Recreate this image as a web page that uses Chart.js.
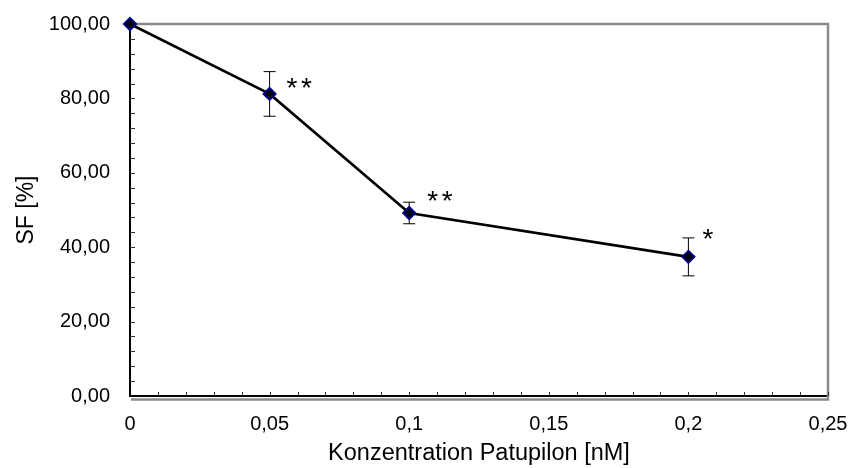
<!DOCTYPE html>
<html><head><meta charset="utf-8">
<script src="https://cdn.jsdelivr.net/npm/chart.js@4/dist/chart.umd.min.js"></script>
<style>html,body{margin:0;padding:0;background:#fff}#wrap{width:851px;height:468px;position:relative}</style>
</head><body><div id="wrap"><canvas id="c"></canvas></div>
<script>
const concentrations = [0, 0.05, 0.1, 0.2];
const sfValues = [100, 81.2, 49.2, 37.4];
const sfErrors = [0, 6.0, 2.9, 5.1];
const significance = ["", "**", "**", "*"];
const xTickValues = [0, 0.05, 0.1, 0.15, 0.2, 0.25];
const xTickLabels = ["0", "0,05", "0,1", "0,15", "0,2", "0,25"];
const yTickValues = [0, 20, 40, 60, 80, 100];
const yTickLabels = ["0,00", "20,00", "40,00", "60,00", "80,00", "100,00"];
const xMinorStep = 0.01;
const yMinorStep = 4;

const FONT = "'Liberation Sans', Arial, Helvetica, sans-serif";

function zeroPad(s) { s.paddingTop = 0; s.paddingBottom = 0; s.paddingLeft = 0; s.paddingRight = 0; }

const decor = {
  id: 'decor',
  beforeDatasetsDraw(chart) {
    const { ctx, chartArea: a, scales } = chart;
    ctx.save();
    ctx.strokeStyle = '#8a8a8a';
    ctx.lineWidth = 2.5;
    ctx.beginPath();
    ctx.moveTo(a.left, a.top);
    ctx.lineTo(a.right, a.top);
    ctx.lineTo(a.right, a.bottom + 3.5);
    ctx.lineTo(a.left + 1, a.bottom + 3.5);
    ctx.stroke();
    ctx.strokeStyle = '#333';
    ctx.lineWidth = 1;
    ctx.beginPath();
    const xs = scales.x, ys = scales.y;
    for (let i = 1; i * xMinorStep <= xs.max + 1e-9; i++) {
      const px = Math.round(xs.getPixelForValue(i * xMinorStep)) + 0.5;
      ctx.moveTo(px, a.bottom);
      ctx.lineTo(px, a.bottom - 4);
    }
    for (let i = 1; i * yMinorStep <= ys.max + 1e-9; i++) {
      const py = Math.round(ys.getPixelForValue(i * yMinorStep)) + 0.5;
      ctx.moveTo(a.left, py);
      ctx.lineTo(a.left + 5, py);
    }
    ctx.stroke();
    ctx.strokeStyle = '#000';
    ctx.lineWidth = 1;
    ctx.beginPath();
    concentrations.forEach((c, i) => {
      if (!sfErrors[i]) return;
      const px = xs.getPixelForValue(c);
      const top = ys.getPixelForValue(sfValues[i] + sfErrors[i]);
      const bot = ys.getPixelForValue(sfValues[i] - sfErrors[i]);
      ctx.moveTo(px, top); ctx.lineTo(px, bot);
      ctx.moveTo(px - 6, top); ctx.lineTo(px + 6, top);
      ctx.moveTo(px - 6, bot); ctx.lineTo(px + 6, bot);
    });
    ctx.stroke();
    ctx.restore();
  },
  afterDatasetsDraw(chart, args, opts) {
    const { ctx, scales } = chart;
    ctx.save();
    ctx.fillStyle = '#000';
    ctx.font = '28px ' + FONT;
    ctx.textAlign = 'left';
    ctx.textBaseline = 'alphabetic';
    concentrations.forEach((c, i) => {
      if (!significance[i]) return;
      const px = scales.x.getPixelForValue(c);
      const py = scales.y.getPixelForValue(sfValues[i]);
      const off = opts.offsets[i];
      [...significance[i]].forEach((ch, k) => {
        ctx.fillText(ch, px + off[0] + k * 14.5, py + off[1] + 16);
      });
    });
    ctx.restore();
  }
};

new Chart(document.getElementById('c'), {
  type: 'scatter',
  data: {
    datasets: [{
      data: concentrations.map((c, i) => ({ x: c, y: sfValues[i] })),
      showLine: true,
      borderColor: '#000',
      borderWidth: 2.6,
      pointStyle: 'rectRot',
      pointRadius: 6,
      pointHoverRadius: 6,
      pointBorderWidth: 2,
      pointBorderColor: '#000080',
      pointBackgroundColor: '#000',
      clip: false
    }]
  },
  options: {
    responsive: true,
    maintainAspectRatio: false,
    animation: false,
    events: [],
    layout: { autoPadding: false, padding: { top: 24, right: 23, left: 0, bottom: 0 } },
    plugins: {
      legend: { display: false },
      tooltip: { enabled: false },
      decor: { offsets: [null, [17, -13], [18, -19], [14, -25]] }
    },
    scales: {
      x: {
        type: 'linear',
        min: 0, max: 0.25,
        afterBuildTicks: s => { s.ticks = xTickValues.map(v => ({ value: v })); },
        afterFit: s => { s.height = 72; zeroPad(s); },
        ticks: {
          callback: (v, i) => xTickLabels[i],
          font: { size: 20, family: FONT },
          color: '#000',
          padding: 16,
          maxRotation: 0,
          autoSkip: false
        },
        grid: { display: false, drawTicks: false },
        border: { display: true, color: '#000', width: 2 },
        title: {
          display: true,
          text: 'Konzentration Patupilon [nM]',
          font: { size: 23.5, family: FONT },
          color: '#000',
          padding: { top: 0, bottom: 0 }
        }
      },
      y: {
        min: 0, max: 100,
        afterBuildTicks: s => { s.ticks = yTickValues.map(v => ({ value: v })); },
        afterFit: s => { s.width = 130; zeroPad(s); },
        ticks: {
          callback: (v, i) => yTickLabels[i],
          font: { size: 20, family: FONT },
          color: '#000',
          padding: 20,
          autoSkip: false
        },
        grid: { display: false, drawTicks: false },
        border: { display: true, color: '#000', width: 2 },
        title: {
          display: true,
          text: 'SF [%]',
          font: { size: 23, family: FONT },
          color: '#000',
          padding: { top: 13, bottom: 0 }
        }
      }
    }
  },
  plugins: [decor]
});
</script>
</body></html>
